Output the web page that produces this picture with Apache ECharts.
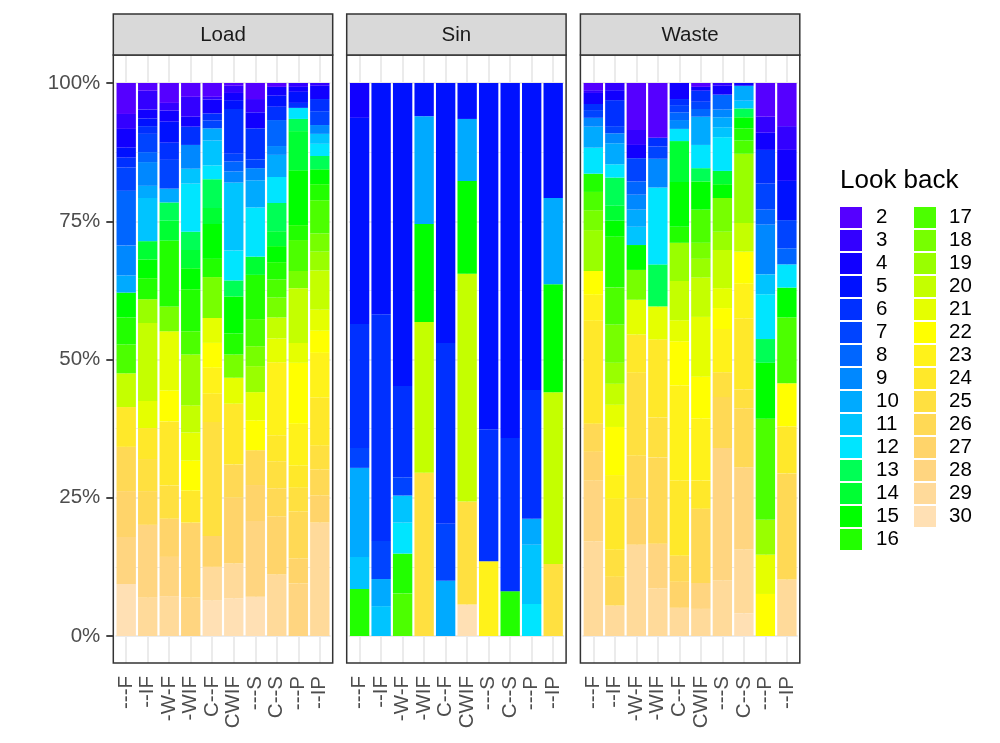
<!DOCTYPE html>
<html lang="en">
<head>
<meta charset="UTF-8">
<title>Look back</title>
<script src="https://cdn.jsdelivr.net/npm/echarts@6/dist/echarts.min.js"></script>
<style>
    html, body { margin: 0; padding: 0; background: #fff; }
    #chart { width: 1000px; height: 743px; }
</style>
</head>
<body>
<div id="chart"></div>
<script>
var panels = ['Load', 'Sin', 'Waste'];
var categories = ['---F', '--IF', '-W-F', '-WIF', 'C--F', 'CWIF', '---S', 'C--S', '---P', '--IP'];
var lookBack = [2, 3, 4, 5, 6, 7, 8, 9, 10, 11, 12, 13, 14, 15, 16, 17, 18, 19, 20, 21, 22, 23, 24, 25, 26, 27, 28, 29, 30];
var percentTicks = [0, 25, 50, 75, 100];
var lookBackColors = ['#5500ff', '#3300ff', '#1100ff', '#0011ff', '#0030ff', '#0044ff', '#0066ff', '#0088ff',
    '#00aaff', '#00c4ff', '#00e5ff', '#00ff55', '#00ff33', '#00ff00', '#22ff00', '#4cff00', '#77ff00',
    '#99ff00', '#c4ff00', '#e5ff00', '#ffff00', '#fff21a', '#ffe82a', '#ffe040', '#ffd955', '#ffd46a',
    '#ffd580', '#ffda9a', '#ffe0b4'];

// one row per look back (2..30), one value per category, percent of the bar
var loadShares = [
    [5.6, 1.4, 3.6, 2.5, 2.5, 0.5, 2.9, 0.7, 0, 0],
    [2.7, 3.4, 1.4, 3.6, 0.5, 1.3, 2.4, 0, 0.7, 0.5],
    [3.4, 1.6, 2.0, 1.8, 2.5, 1.3, 2.9, 1.6, 0.9, 2.4],
    [1.8, 1.4, 3.8, 0, 0, 1.6, 0, 2.0, 2.0, 0],
    [1.8, 1.4, 3.1, 3.3, 1.3, 8.1, 5.6, 2.4, 0.9, 2.2],
    [4.2, 3.3, 5.2, 0, 1.4, 1.4, 1.6, 0, 0, 2.5],
    [9.9, 1.8, 0, 0, 0, 1.8, 0, 4.7, 0, 0],
    [5.4, 4.3, 0, 4.3, 0, 2.0, 2.2, 1.6, 0, 1.6],
    [3.1, 2.2, 2.5, 0, 2.2, 0, 4.9, 4.0, 0, 0],
    [0, 7.8, 0, 2.7, 4.5, 12.3, 0, 0, 0, 1.8],
    [0, 0, 0, 8.7, 2.5, 5.4, 8.9, 4.7, 2.0, 2.2],
    [0, 0, 3.3, 3.3, 5.2, 2.9, 0, 5.1, 2.2, 2.4],
    [0, 3.3, 3.6, 3.3, 2.9, 0, 3.3, 2.7, 7.1, 0],
    [4.5, 3.4, 0, 3.8, 6.3, 6.7, 0, 2.9, 9.9, 2.7],
    [4.9, 3.8, 11.9, 7.6, 3.3, 3.8, 8.0, 3.1, 2.7, 2.9],
    [5.2, 0, 0, 4.2, 0, 0, 4.9, 3.3, 5.6, 6.0],
    [0, 0, 4.5, 0, 7.4, 4.2, 3.6, 3.6, 3.1, 3.3],
    [0, 4.3, 0, 9.2, 0, 0, 4.7, 0, 0, 3.4],
    [6.1, 14.1, 0, 4.9, 0, 0, 0, 3.8, 9.9, 7.1],
    [0, 4.9, 10.7, 5.1, 4.5, 4.7, 5.1, 4.3, 3.6, 3.8],
    [0, 0, 5.6, 5.4, 4.5, 0, 5.4, 0, 11.0, 4.0],
    [0, 0, 0, 0, 4.7, 0, 0, 13.2, 7.6, 8.1],
    [7.2, 5.6, 11.6, 5.8, 5.1, 11.0, 0, 4.7, 4.0, 8.7],
    [0, 5.8, 6.0, 0, 20.6, 0, 0, 4.9, 4.3, 4.3],
    [8.0, 6.1, 0, 0, 0, 6.0, 6.3, 5.1, 8.5, 4.7],
    [8.3, 0, 6.9, 13.6, 5.6, 11.9, 6.5, 10.5, 4.5, 4.9],
    [8.5, 13.2, 7.1, 6.9, 0, 0, 13.7, 0, 9.5, 0],
    [0, 6.9, 7.2, 0, 6.1, 6.3, 0, 11.1, 0, 20.5],
    [9.4, 0, 0, 0, 6.4, 6.8, 7.1, 0, 0, 0]
];
var sinShares = [
    [0, 0, 0, 0, 0, 0, 0, 0, 0, 0],
    [0, 0, 0, 0, 0, 0, 0, 0, 0, 0],
    [6.3, 0, 0, 0, 0, 0, 0, 0, 0, 0],
    [37.3, 41.8, 54.8, 6.0, 47.0, 6.5, 62.6, 64.2, 55.5, 20.8],
    [22.4, 41.0, 16.5, 0, 32.7, 0, 23.9, 27.7, 23.3, 0],
    [3.6, 6.9, 3.3, 0, 10.3, 0, 0, 0, 0, 0],
    [0, 0, 0, 0, 0, 0, 0, 0, 0, 0],
    [0, 0, 0, 0, 0, 0, 0, 0, 0, 0],
    [16.1, 4.9, 0, 19.5, 10.0, 11.2, 0, 0, 4.7, 15.6],
    [5.8, 5.4, 4.9, 0, 0, 0, 0, 0, 10.7, 0],
    [0, 0, 5.6, 0, 0, 0, 0, 0, 5.8, 0],
    [0, 0, 0, 0, 0, 0, 0, 0, 0, 0],
    [0, 0, 0, 0, 0, 0, 0, 0, 0, 0],
    [0, 0, 0, 17.7, 0, 16.8, 0, 0, 0, 19.5],
    [8.5, 0, 7.2, 0, 0, 0, 0, 8.1, 0, 0],
    [0, 0, 7.7, 0, 0, 0, 0, 0, 0, 0],
    [0, 0, 0, 0, 0, 0, 0, 0, 0, 0],
    [0, 0, 0, 0, 0, 0, 0, 0, 0, 0],
    [0, 0, 0, 27.3, 0, 41.2, 0, 0, 0, 31.1],
    [0, 0, 0, 0, 0, 0, 0, 0, 0, 0],
    [0, 0, 0, 0, 0, 0, 0, 0, 0, 0],
    [0, 0, 0, 0, 0, 0, 13.5, 0, 0, 0],
    [0, 0, 0, 0, 0, 0, 0, 0, 0, 0],
    [0, 0, 0, 29.5, 0, 18.6, 0, 0, 0, 13.0],
    [0, 0, 0, 0, 0, 0, 0, 0, 0, 0],
    [0, 0, 0, 0, 0, 0, 0, 0, 0, 0],
    [0, 0, 0, 0, 0, 0, 0, 0, 0, 0],
    [0, 0, 0, 0, 0, 0, 0, 0, 0, 0],
    [0, 0, 0, 0, 0, 5.7, 0, 0, 0, 0]
];
var wasteShares = [
    [1.3, 0, 8.5, 9.9, 0, 0.7, 0, 0, 6.1, 7.8],
    [0.5, 1.3, 2.7, 0, 0, 0, 0.5, 0, 2.9, 4.3],
    [2.0, 1.8, 2.4, 0, 2.9, 0.7, 1.6, 0.5, 3.1, 5.6],
    [0, 0, 0, 0, 0, 0, 0, 0, 0, 7.1],
    [1.1, 4.7, 0, 1.6, 1.1, 2.0, 0, 0, 6.1, 0],
    [1.4, 1.3, 4.2, 2.2, 1.3, 1.3, 0, 0, 4.7, 5.1],
    [0, 0, 2.4, 0, 1.4, 1.4, 2.7, 0, 2.7, 2.9],
    [1.6, 1.8, 2.7, 5.2, 1.6, 0, 1.4, 0, 9.0, 0],
    [3.8, 3.8, 3.1, 0, 0, 5.1, 1.8, 2.7, 0, 0],
    [0, 0, 3.3, 0, 0, 0, 1.8, 1.4, 3.6, 0],
    [4.7, 2.4, 0, 13.9, 2.2, 4.2, 6.1, 0, 8.1, 4.2],
    [0, 5.1, 0, 7.6, 0, 2.4, 0, 1.6, 4.3, 0],
    [0, 2.7, 0, 0, 7.4, 0, 2.4, 0, 0, 0],
    [0, 2.9, 4.5, 0, 8.1, 5.1, 2.5, 2.0, 10.1, 5.4],
    [3.3, 9.2, 0, 0, 2.9, 0, 0, 2.2, 0, 0],
    [3.3, 6.7, 0, 0, 0, 6.0, 0, 2.4, 18.3, 11.9],
    [3.6, 6.9, 5.4, 0, 0, 2.9, 6.1, 0, 0, 0],
    [7.4, 3.8, 0, 0, 6.9, 3.4, 3.3, 12.5, 6.3, 0],
    [0, 3.8, 0, 0, 7.1, 7.1, 6.9, 5.2, 0, 0],
    [0, 4.0, 6.3, 6.0, 3.8, 10.8, 3.6, 0, 7.1, 0],
    [4.3, 8.7, 0, 0, 8.0, 7.6, 3.8, 5.8, 7.6, 7.8],
    [4.7, 4.3, 0, 0, 17.2, 11.2, 7.8, 6.3, 0, 0],
    [18.6, 9.2, 6.9, 14.1, 13.6, 5.1, 0, 12.8, 0, 8.5],
    [0, 4.9, 15.0, 7.2, 0, 0, 4.5, 3.4, 0, 0],
    [5.1, 5.2, 7.8, 15.6, 4.7, 13.4, 9.2, 10.7, 0, 19.2],
    [5.2, 0, 8.3, 0, 4.7, 0, 0, 0, 0, 0],
    [11.0, 0, 0, 8.1, 0, 4.7, 23.9, 14.8, 0, 0],
    [17.1, 5.5, 16.5, 8.6, 5.1, 4.9, 10.1, 11.6, 0, 10.2],
    [0, 0, 0, 0, 0, 0, 0, 4.1, 0, 0]
];

var font = '"Liberation Sans", Arial, Helvetica, sans-serif';
var panelLeft = [113.3, 346.7, 580.4];
var panelW = 219.4;
var panelTop = 55, panelH = 608;
var unit = panelW / 10.2;   // discrete axis: 10 bars plus 0.6 padding each side
var barTop = 83, barH = 553;

var myChart = echarts.init(document.getElementById('chart'));

var grids = [], xAxes = [], yAxes = [], series = [], graphics = [];
var shareSets = [loadShares, sinShares, wasteShares];

panels.forEach(function (name, p) {
    grids.push({left: panelLeft[p] + 0.1 * unit, width: 10 * unit, top: barTop, height: barH});
    xAxes.push({
        type: 'category', gridIndex: p, data: categories,
        offset: panelTop + panelH - barTop - barH,
        axisLine: {show: false},
        axisTick: {length: 7, alignWithLabel: true, lineStyle: {color: '#333333', width: 1.8}},
        axisLabel: {rotate: 90, interval: 0, margin: 13, color: '#4d4d4d', fontSize: 20.5, fontFamily: font},
        splitLine: {show: false}
    });
    yAxes.push({
        type: 'value', gridIndex: p,
        min: percentTicks[0], max: percentTicks[percentTicks.length - 1],
        interval: percentTicks[1] - percentTicks[0],
        offset: 0.1 * unit,
        axisLine: {show: false},
        axisTick: {show: p === 0, length: 7, lineStyle: {color: '#333333', width: 1.8}},
        axisLabel: {show: p === 0, formatter: '{value}%', margin: 13, color: '#4d4d4d', fontSize: 20.5, fontFamily: font},
        splitLine: {lineStyle: {color: '#ebebeb', width: 2}},
        minorTick: {show: false, splitNumber: 2},
        minorSplitLine: {show: true, lineStyle: {color: '#ebebeb', width: 1}}
    });

    var rows = shareSets[p];
    // first series sits at the bottom of the stack
    for (var i = lookBack.length - 1; i >= 0; i--) {
        series.push({
            name: String(lookBack[i]),
            type: 'bar',
            xAxisIndex: p,
            yAxisIndex: p,
            stack: name,
            barCategoryGap: '10%',
            itemStyle: {color: lookBackColors[i]},
            emphasis: {disabled: true},
            data: rows[i]
        });
    }

    graphics.push({
        type: 'rect', z: 100, silent: true,
        shape: {x: panelLeft[p], y: panelTop, width: panelW, height: panelH},
        style: {fill: 'none', stroke: '#333333', lineWidth: 1.5}
    });
    graphics.push({
        type: 'rect', z: 100, silent: true,
        shape: {x: panelLeft[p], y: 14, width: panelW, height: panelTop - 14},
        style: {fill: '#d9d9d9', stroke: '#333333', lineWidth: 1.5}
    });
    graphics.push({
        type: 'text', z: 101, silent: true,
        x: panelLeft[p] + panelW / 2, y: 35,
        style: {text: name, fill: '#1a1a1a', fontSize: 20.5, fontFamily: font, align: 'center', verticalAlign: 'middle'}
    });
});

// background grids that carry the vertical grid lines at bar centres
panels.forEach(function (name, p) {
    grids.push({left: panelLeft[p] + 0.6 * unit, width: 9 * unit, top: panelTop, height: panelH});
    xAxes.push({
        type: 'category', gridIndex: 3 + p, data: categories, boundaryGap: false,
        axisLine: {show: false}, axisTick: {show: false}, axisLabel: {show: false, interval: 0},
        splitLine: {show: true, interval: 0, lineStyle: {color: '#ebebeb', width: 2}}
    });
    yAxes.push({type: 'value', gridIndex: 3 + p, show: false});
});

graphics.push({
    type: 'text', silent: true, x: 840, y: 181,
    style: {text: 'Look back', fill: '#000000', fontSize: 26, fontFamily: font, align: 'left', verticalAlign: 'middle'}
});

function legendColumn(names, left, gap) {
    return {
        data: names, left: left, top: 207, orient: 'vertical', padding: 0,
        itemWidth: 22, itemHeight: 21, itemGap: 2, icon: 'rect', selectedMode: false,
        textStyle: {fontSize: 20.5, color: '#000000', fontFamily: font, padding: [0, 0, 0, gap]}
    };
}

myChart.setOption({
    animation: false,
    backgroundColor: '#ffffff',
    textStyle: {fontFamily: font},
    grid: grids,
    xAxis: xAxes,
    yAxis: yAxes,
    legend: [
        legendColumn(lookBack.slice(0, 15).map(String), 840, 9),
        legendColumn(lookBack.slice(15).map(String), 914, 8)
    ],
    graphic: graphics,
    series: series
});
</script>
</body>
</html>
